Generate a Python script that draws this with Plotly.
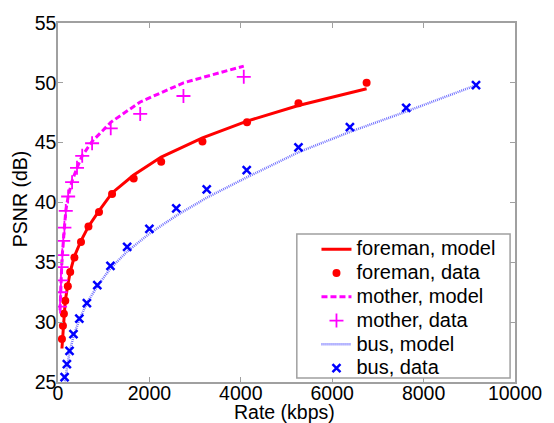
import plotly.graph_objects as go

# ---- data ----
foreman_rate = [86, 108, 129, 159, 215, 267, 359, 503, 667, 897, 1183, 1656, 2258, 3161, 4136, 5262, 6753]
foreman_data = [28.6, 29.7, 30.7, 31.8, 33.0, 34.2, 35.4, 36.7, 38.0, 39.2, 40.7, 42.0, 43.4, 45.1, 46.7, 48.3, 50.0]
foreman_model = [27.8, 29.3, 30.5, 31.8, 33.1, 34.2, 35.5, 36.8, 38.0, 39.3, 40.8, 42.3, 43.8, 45.4, 46.8, 48.1, 49.5]

mother_rate = [45, 55, 65, 80, 95, 115, 140, 170, 222, 308, 416, 530, 746, 1154, 1799, 2745, 4065]
mother_data = [31.3, 32.5, 33.5, 34.6, 35.6, 36.8, 37.9, 39.3, 40.5, 41.7, 42.9, 43.9, 44.95, 46.2, 47.4, 48.9, 50.5]
mother_model = [31.0, 32.4, 33.5, 34.6, 35.7, 36.8, 38.0, 39.3, 40.5, 41.8, 42.9, 43.9, 45.1, 46.7, 48.4, 50.0, 51.4]

bus_rate = [144, 194, 252, 338, 467, 632, 860, 1148, 1513, 2000, 2588, 3254, 4129, 5262, 6387, 7620, 9147]
bus_data = [25.4, 26.5, 27.6, 29.0, 30.3, 31.6, 33.1, 34.7, 36.3, 37.8, 39.5, 41.1, 42.7, 44.6, 46.3, 47.9, 49.8]
bus_model = [24.9, 26.3, 27.5, 28.8, 30.2, 31.6, 33.0, 34.5, 35.9, 37.4, 38.9, 40.4, 42.1, 44.2, 45.9, 47.6, 49.8]

series_names = ["foreman, model", "foreman, data", "mother, model", "mother, data", "bus, model", "bus, data"]

x_ticks = [0, 2000, 4000, 6000, 8000, 10000]
y_ticks = [25, 30, 35, 40, 45, 50, 55]

FONT = "Liberation Sans, Arial, sans-serif"
GREY = "#a0a0a0"
TXT = 19.5


def lname(s):
    # legend rows are spaced by legend.font.size; the text itself is drawn larger
    return '<span style="font-size:20px">%s</span>' % s


fig = go.Figure()
fig.add_trace(go.Scatter(x=foreman_rate, y=foreman_model, mode="lines", name=lname(series_names[0]),
                         line=dict(color="#ff0000", width=3)))
fig.add_trace(go.Scatter(x=foreman_rate, y=foreman_data, mode="markers", name=lname(series_names[1]),
                         marker=dict(color="#ff0000", size=8, symbol="circle")))
fig.add_trace(go.Scatter(x=mother_rate, y=mother_model, mode="lines", name=lname(series_names[2]),
                         line=dict(color="#ff00ff", width=3, dash="6px,3px")))
fig.add_trace(go.Scatter(x=mother_rate, y=mother_data, mode="markers", name=lname(series_names[3]),
                         marker=dict(color="#ff00ff", size=10, symbol="cross-thin",
                                     line=dict(color="#ff00ff", width=1.8))))
fig.add_trace(go.Scatter(x=bus_rate, y=bus_model, mode="lines", name=lname(series_names[4]),
                         line=dict(color="#7070ff", width=2.5, dash="1px,1px")))
fig.add_trace(go.Scatter(x=bus_rate, y=bus_data, mode="markers", name=lname(series_names[5]),
                         marker=dict(color="#0000ff", size=8, symbol="x-thin",
                                     line=dict(color="#0000ff", width=2.5))))

axis_common = dict(showline=True, linecolor=GREY, linewidth=1.5, mirror="ticks",
                   ticks="inside", ticklen=5, tickcolor=GREY, showgrid=False, zeroline=False,
                   tickfont=dict(family=FONT, size=TXT, color="#000000"))

fig.update_xaxes(range=[0, 10000], tickvals=x_ticks, ticktext=[str(v) for v in x_ticks],
                 ticklabelstandoff=-7, **axis_common)
fig.update_yaxes(range=[25, 55], tickvals=y_ticks, ticktext=[str(v) for v in y_ticks],
                 ticklabelstandoff=-4, **axis_common)

fig.update_layout(
    width=554, height=423,
    margin=dict(l=58, r=31, t=18, b=41),
    paper_bgcolor="white", plot_bgcolor="white",
    font=dict(family=FONT, size=TXT, color="#000000"),
    showlegend=True,
    legend=dict(x=(321 - 58) / 465, y=(382 - 307.75) / 364, xanchor="left", yanchor="middle",
                bgcolor="rgba(0,0,0,0)", borderwidth=0,
                font=dict(family=FONT, size=16, color="#000000"),
                tracegroupgap=0),
    shapes=[dict(type="rect", xref="paper", yref="paper",
                 x0=(301 - 58) / 465, x1=(518 - 58) / 465,
                 y0=(382 - 378) / 364, y1=(382 - 232) / 364,
                 line=dict(color=GREY, width=1.5), fillcolor="white", layer="above")],
    annotations=[
        dict(text="Rate (kbps)", xref="paper", yref="paper", x=(288 - 58) / 465, y=(382 - 412) / 364,
             xanchor="center", yanchor="middle", showarrow=False,
             font=dict(family=FONT, size=TXT, color="#000000")),
        dict(text="PSNR (dB)", xref="paper", yref="paper", x=(19.5 - 58) / 465, y=(382 - 196.5) / 364,
             xanchor="center", yanchor="middle", showarrow=False, textangle=-90,
             font=dict(family=FONT, size=TXT, color="#000000")),
    ],
)

fig.write_html("out.html", config={"displayModeBar": False},
               post_script="document.body.style.margin='0px';")
